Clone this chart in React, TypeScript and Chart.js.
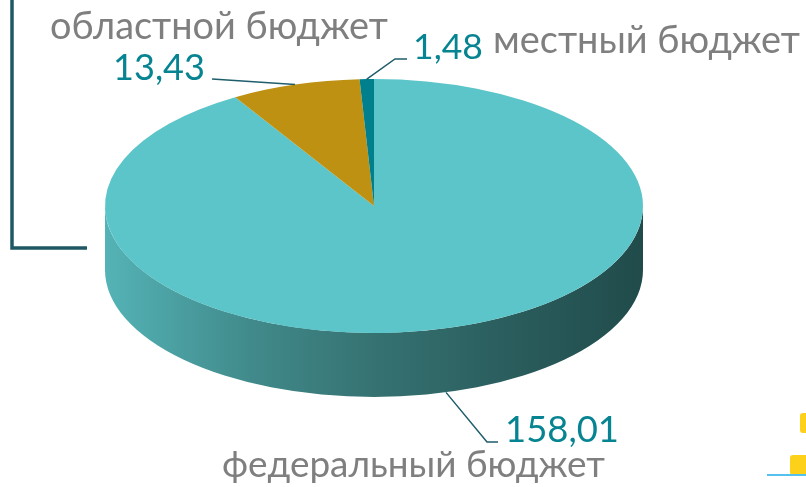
import { useEffect, useRef } from "react";
import { Chart, registerables } from "chart.js";

Chart.register(...registerables);

// ---- data ----
const categories = ["федеральный бюджет", "областной бюджет", "местный бюджет"];
const values = [158.01, 13.43, 1.48];
const valueLabels = ["158,01", "13,43", "1,48"];

// ---- styles / layout ----
const sliceColors = ["#5CC5C9", "#BF9112", "#00808D"];
const W = 806;
const H = 487;
const CX = 374;
const CY = 206;
const RX = 269;
const RY = 127;
const DEPTH = 64;
const R = 150;
const FONT = "Lato, 'Open Sans', sans-serif";
const NAME_COLOR = "#7F7F7F";
const VALUE_COLOR = "#078491";
const LINE_COLOR = "#1F5D6B";

type Box = { x: number; y: number; w: number };
const nameBoxes: Box[] = [
  { x: 222, y: 477, w: 383 },
  { x: 50, y: 39, w: 338 },
  { x: 493, y: 53, w: 307 },
];
const valueBoxes: Box[] = [
  { x: 505, y: 442, w: 114 },
  { x: 113, y: 80, w: 92 },
  { x: 413, y: 59, w: 70 },
];
const leaderPaths: number[][][] = [
  [[487, 442], [498, 442]],
  [[212, 79]],
  [[395, 59], [407, 59]],
];
const onSide = [true, false, false];

function drawFitted(ctx: CanvasRenderingContext2D, text: string, b: Box, color: string) {
  ctx.font = `100px ${FONT}`;
  const m = ctx.measureText(text).width;
  const size = (100 * b.w) / m;
  ctx.font = `${size}px ${FONT}`;
  ctx.fillStyle = color;
  ctx.textBaseline = "alphabetic";
  ctx.textAlign = "left";
  ctx.fillText(text, b.x, b.y);
}

const pie3d = {
  id: "pie3d",
  beforeDatasetsDraw(chart: any) {
    const ctx: CanvasRenderingContext2D = chart.ctx;
    // side wall
    ctx.save();
    const g = ctx.createLinearGradient(CX - RX, 0, CX + RX, 0);
    g.addColorStop(0, "#54B3B6");
    g.addColorStop(0.27, "#418A8B");
    g.addColorStop(0.5, "#367272");
    g.addColorStop(0.74, "#2B5E5E");
    g.addColorStop(1, "#214B4B");
    ctx.beginPath();
    ctx.ellipse(CX, CY, RX, RY, 0, 0, Math.PI, false);
    ctx.ellipse(CX, CY + DEPTH, RX, RY, 0, Math.PI, 0, true);
    ctx.closePath();
    ctx.fillStyle = g;
    ctx.fill();
    ctx.restore();
    // flatten the pie into the top face
    const arc = chart.getDatasetMeta(0).data[0];
    const ccx = arc.x;
    const ccy = arc.y;
    const rr = arc.outerRadius;
    ctx.save();
    ctx.translate(CX, CY);
    ctx.scale(RX / rr, RY / rr);
    ctx.translate(-ccx, -ccy);
  },
  afterDatasetsDraw(chart: any) {
    const ctx: CanvasRenderingContext2D = chart.ctx;
    ctx.restore();
    const meta = chart.getDatasetMeta(0);
    // leader lines
    ctx.save();
    ctx.strokeStyle = LINE_COLOR;
    ctx.lineWidth = 1.5;
    meta.data.forEach((a: any, i: number) => {
      const mid = (a.startAngle + a.endAngle) / 2;
      const ax = CX + RX * Math.cos(mid);
      const ay = CY + RY * Math.sin(mid) + (onSide[i] ? DEPTH : 0);
      ctx.beginPath();
      ctx.moveTo(ax, ay);
      leaderPaths[i].forEach((p) => ctx.lineTo(p[0], p[1]));
      ctx.stroke();
    });
    ctx.restore();
    // labels
    ctx.save();
    categories.forEach((c, i) => drawFitted(ctx, c, nameBoxes[i], NAME_COLOR));
    valueLabels.forEach((v, i) => drawFitted(ctx, v, valueBoxes[i], VALUE_COLOR));
    ctx.restore();
    // decorations: bracket
    ctx.save();
    ctx.strokeStyle = "#1F5865";
    ctx.lineWidth = 3.5;
    ctx.beginPath();
    ctx.moveTo(12, 0);
    ctx.lineTo(12, 248);
    ctx.lineTo(87, 248);
    ctx.stroke();
    // corner icon fragments
    ctx.fillStyle = "#FDD01A";
    ctx.beginPath();
    (ctx as any).roundRect(800, 413, 12, 20, 3);
    ctx.fill();
    ctx.beginPath();
    (ctx as any).roundRect(790, 455, 20, 20, 3);
    ctx.fill();
    ctx.strokeStyle = "#55C2EE";
    ctx.lineWidth = 2;
    ctx.beginPath();
    ctx.moveTo(767, 475);
    ctx.lineTo(806, 475);
    ctx.stroke();
    ctx.restore();
  },
};

export default function App() {
  const ref = useRef<HTMLCanvasElement | null>(null);
  useEffect(() => {
    document.body.style.margin = "0";
    if (!ref.current) return;
    const chart = new Chart(ref.current, {
      type: "pie",
      data: {
        labels: categories,
        datasets: [
          {
            data: values,
            backgroundColor: sliceColors,
            borderWidth: 0,
            hoverOffset: 0,
          },
        ],
      },
      options: {
        responsive: false,
        maintainAspectRatio: false,
        animation: false,
        rotation: 0,
        layout: {
          padding: { left: CX - R, right: W - CX - R, top: CY - R, bottom: H - CY - R },
        },
        plugins: {
          legend: { display: false },
          tooltip: { enabled: false },
        },
        events: [],
      },
      plugins: [pie3d],
    });
    return () => chart.destroy();
  }, []);
  return (
    <div style={{ width: W, height: H, background: "#fff" }}>
      <canvas ref={ref} width={W} height={H} style={{ display: "block", width: W, height: H }} />
    </div>
  );
}
